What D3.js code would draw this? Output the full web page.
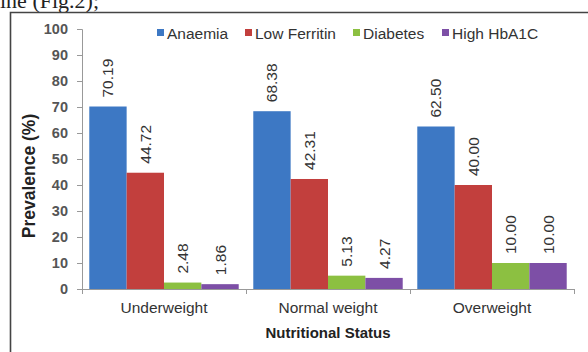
<!DOCTYPE html>
<html>
<head>
<meta charset="utf-8">
<script src="https://cdn.jsdelivr.net/npm/d3@7"></script>
<style>
  html, body { margin: 0; padding: 0; background: #fff; }
  svg { display: block; }
</style>
</head>
<body>
<svg id="chart" width="588" height="352"></svg>
<script>
// Prevalence (%) by nutritional status
const categories = ["Underweight", "Normal weight", "Overweight"];
const seriesNames = ["Anaemia", "Low Ferritin", "Diabetes", "High HbA1C"];
const anaemia = [70.19, 68.38, 62.50];
const lowFerritin = [44.72, 42.31, 40.00];
const diabetes = [2.48, 5.13, 10.00];
const highHbA1C = [1.86, 4.27, 10.00];
const yTicks = [0, 10, 20, 30, 40, 50, 60, 70, 80, 90, 100];
const seriesColors = ["#3d78c4", "#c23f3d", "#8cc041", "#7d4fa6"];

const seriesValues = [anaemia, lowFerritin, diabetes, highHbA1C];

const svg = d3.select("#chart");
const font = "Arial, 'Liberation Sans', sans-serif";

// caption text running above the figure box
svg.append("text")
  .attr("x", 0).attr("y", 8)
  .attr("font-family", "'Liberation Serif', 'Times New Roman', serif")
  .attr("font-size", 22).attr("fill", "#222")
  .text("ine (Fig.2);");

// figure frame (top and left edges)
svg.append("path")
  .attr("d", "M10.5,352 V12.5 H588")
  .attr("fill", "none").attr("stroke", "#444").attr("stroke-width", 1.6);

const plot = { left: 82, right: 574, top: 29, bottom: 289 };

const x0 = d3.scaleBand().domain(categories).range([plot.left, plot.right]).paddingInner(0).paddingOuter(0);
const x1 = d3.scaleBand().domain(seriesNames).range([0, x0.bandwidth()]).paddingOuter(0.195).paddingInner(0);
const y = d3.scaleLinear().domain([0, 100]).range([plot.bottom, plot.top]);

// y axis
const yAxis = svg.append("g")
  .attr("transform", `translate(${plot.left},0)`)
  .call(d3.axisLeft(y).tickValues(yTicks).tickSize(5).tickPadding(9));
yAxis.select(".domain").attr("stroke", "#999");
yAxis.selectAll(".tick line").attr("stroke", "#999");
yAxis.selectAll(".tick text")
  .attr("font-family", font).attr("font-size", 14.5).attr("font-weight", "bold")
  .attr("fill", "#555");

// bars
const groups = svg.append("g").selectAll("g")
  .data(categories)
  .join("g")
  .attr("transform", d => `translate(${x0(d)},0)`);

groups.selectAll("rect")
  .data((c, ci) => seriesNames.map((s, si) => ({ s, v: seriesValues[si][ci], si })))
  .join("rect")
  .attr("x", d => x1(d.s))
  .attr("y", d => y(d.v))
  .attr("width", x1.bandwidth())
  .attr("height", d => y(0) - y(d.v))
  .attr("fill", d => seriesColors[d.si]);

// value labels, rotated above each bar
groups.selectAll("text.val")
  .data((c, ci) => seriesNames.map((s, si) => ({ s, v: seriesValues[si][ci], si })))
  .join("text")
  .attr("class", "val")
  .attr("transform", d => `translate(${x1(d.s) + x1.bandwidth() / 2 + 5.5},${y(d.v) - 9}) rotate(-90)`)
  .attr("font-family", font).attr("font-size", 15.5)
  .attr("fill", "#333")
  .text(d => d.v.toFixed(2));

// x axis
const xAxis = svg.append("g")
  .attr("transform", `translate(0,${plot.bottom})`)
  .call(d3.axisBottom(x0).tickSize(0).tickPadding(13));
xAxis.select(".domain").attr("stroke", "#999");
xAxis.selectAll(".tick text")
  .attr("font-family", font).attr("font-size", 15.5).attr("fill", "#333");
// category separator ticks
svg.append("g").selectAll("line")
  .data(categories.map(c => x0(c)).concat([plot.right]))
  .join("line")
  .attr("x1", d => d + 0.5).attr("x2", d => d + 0.5)
  .attr("y1", plot.bottom).attr("y2", plot.bottom + 5)
  .attr("stroke", "#999");

// axis titles
svg.append("text")
  .attr("x", (plot.left + plot.right) / 2).attr("y", 338)
  .attr("text-anchor", "middle")
  .attr("font-family", font).attr("font-size", 15).attr("font-weight", "bold")
  .attr("fill", "#222")
  .text("Nutritional Status");

svg.append("text")
  .attr("transform", "translate(35,176) rotate(-90)")
  .attr("text-anchor", "middle")
  .attr("font-family", font).attr("font-size", 17.5).attr("font-weight", "bold")
  .attr("fill", "#222")
  .text("Prevalence (%)");

// legend
const legendX = [157, 245, 353, 442];
const legend = svg.append("g").selectAll("g")
  .data(seriesNames)
  .join("g")
  .attr("transform", (d, i) => `translate(${legendX[i]},33)`);
legend.append("rect")
  .attr("x", 0).attr("y", -4).attr("width", 7).attr("height", 7)
  .attr("fill", (d, i) => seriesColors[i]);
legend.append("text")
  .attr("x", 10).attr("y", 5.5)
  .attr("font-family", font).attr("font-size", 15.5).attr("fill", "#333")
  .text(d => d);
</script>
</body>
</html>
